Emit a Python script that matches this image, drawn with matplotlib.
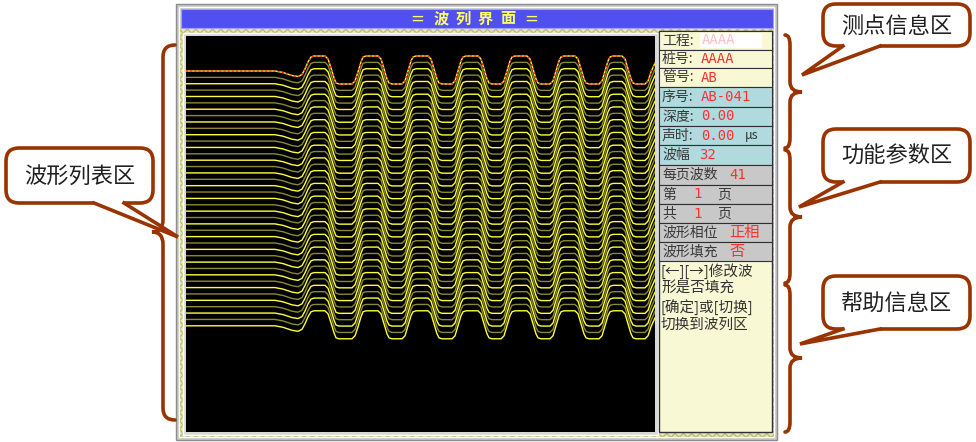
import matplotlib.pyplot as plt
from matplotlib.patches import Rectangle, FancyBboxPatch, Polygon, PathPatch
from matplotlib.path import Path

plt.rcParams['font.family'] = ['Noto Sans CJK SC', 'DejaVu Sans']

# waveform template (sample index, amplitude in px, up = +)
wave_x = [0, 89, 97, 106, 112, 116, 119, 122, 125, 128, 139, 142, 145, 148, 150, 153,
          166, 169, 172, 175, 177, 180, 192, 195, 198, 201, 203, 206, 216, 219, 222, 225,
          227, 230, 242, 245, 248, 251, 253, 256, 266, 269, 272, 275, 277, 280, 292, 295,
          298, 301, 303, 306, 315, 318, 321, 324, 326, 329, 341, 344, 347, 350, 352, 355,
          364, 367, 370, 373, 375, 378, 389, 392, 395, 398, 400, 403, 413, 416, 419, 422,
          424, 427, 436, 439, 442, 445, 447, 450, 459, 462, 465, 469]
wave_y = [0, 0, -1.5, -4.5, -5.5, -3.5, 2, 9, 14, 15, 15, 12, 3, -7, -12, -13,
          -13, -10, -1, 9, 14, 15, 15, 12, 2, -8, -12, -13, -13, -10, 0, 10,
          14, 15, 15, 12, 2, -8, -12, -13, -13, -10, 0, 10, 14, 15, 15, 12,
          2, -8, -12, -13, -13, -10, 0, 10, 14, 15, 15, 12, 2, -8, -12, -13,
          -13, -10, 0, 10, 14, 15, 15, 12, 2, -8, -12, -13, -13, -10, 0, 10,
          14, 15, 15, 12, 2, -8, -12, -13, -13, -10, -1, 8]
n_traces = 41

title_chars = ['═', '波', '列', '界', '面', '═']
labels = ['工程:', '桩号:', '管号:', '序号:', '深度:', '声时:', '波幅',
          '每页波数', '第', '共', '波形相位', '波形填充']
values = ['AAAA', 'AAAA', 'AB', 'AB-041', '0.00', '0.00', '32',
          '41', '1', '1', '正相', '否']
help_lines = ['[←][→]修改波', '形是否填充', '[确定]或[切换]', '切换到波列区']
callouts = ['波形列表区', '测点信息区', '功能参数区', '帮助信息区']

W, H = 976, 442
fig = plt.figure(figsize=(W / 100, H / 100), dpi=100)
bg = fig.add_axes([0, 0, 1, 1])
bg.set_xlim(0, W)
bg.set_ylim(H, 0)
bg.axis('off')


def rect(x0, y0, x1, y1, **kw):
    bg.add_patch(Rectangle((x0, y0), x1 - x0, y1 - y0, **kw))


# window frame
rect(176, 4, 777, 440, facecolor='#c8c8c8', edgecolor='#8c8c8c', lw=1)
rect(179, 7, 774, 437, facecolor='none', edgecolor='white', lw=1)
rect(180, 28, 774, 437, facecolor='#e6e6b4', edgecolor='#bcbc7c', hatch='xxxx', lw=0)
rect(181, 9, 773, 28, facecolor='#5050f0', edgecolor='#a0a0ff', lw=0.8)
for cx, ch in zip([417, 441, 463, 485, 508, 531], title_chars):
    if ch == '═':
        bg.text(cx, 18.5, '=', color='#ffff66', fontsize=12, ha='center', va='center',
                family=['DejaVu Sans'])
    else:
        bg.text(cx, 18.5, ch, color='#ffff66', fontsize=11, fontweight='bold',
                ha='center', va='center')
rect(183, 33, 658, 435, facecolor='#d8d8d8', edgecolor='white', lw=1)

# waveform area
ax = fig.add_axes([186 / W, 1 - 432 / H, (655 - 186) / W, (432 - 36) / H])
ax.set_facecolor('black')
ax.set_xlim(0, 469)
ax.set_ylim(396, 0)
ax.set_xticks([])
ax.set_yticks([])
for s in ax.spines.values():
    s.set_visible(False)
for i in range(n_traces - 1, -1, -1):
    base = 35 + i * 6.37
    ys = [base - v for v in wave_y]
    col = '#ffff3c' if i % 2 == 0 else '#8a8a36'
    ax.plot(wave_x, ys, color=col, lw=1.0, zorder=2 + (i % 2 == 0))
    if i == 0:
        ax.plot(wave_x, ys, color='#ff2020', lw=1.0, dashes=(1.5, 1.5), zorder=5)

# right panel
rows = [31, 50, 68, 87, 107, 126, 145, 165, 185, 204, 223, 242, 261]
fills = ['#f8f8d4'] * 3 + ['#b0dade'] * 4 + ['#c8c8c8'] * 5
rect(659, 31, 772, 432, facecolor='#f8f8d4', edgecolor='#303030', lw=1)
fs = 10
for k in range(len(labels)):
    y0, y1 = rows[k], rows[k + 1]
    rect(659, y0, 772, y1, facecolor=fills[k], edgecolor='#303030', lw=0.8)
    yc = (y0 + y1) / 2
    bg.text(662, yc, labels[k], color='#383838', fontsize=fs, va='center')
    if k == 0:
        rect(700, y0 + 2, 762, y1 - 2, facecolor='white', edgecolor='none')
        bg.text(702, yc, values[k], color='#ffb0b8', fontsize=fs, va='center',
                family=['DejaVu Sans Mono'], alpha=0.8)
        continue
    if labels[k] in ('第', '共'):
        vx = 693
        bg.text(717, yc, '页', color='#383838', fontsize=fs, va='center')
    elif len(labels[k]) == 4:
        vx = 729
    elif k == 6:
        vx = 699
    else:
        vx = 701
    if k < 10:
        bg.text(vx, yc, values[k], color='#ff3030', fontsize=fs, va='center',
                family=['DejaVu Sans Mono', 'Noto Sans CJK SC'])
    else:
        bg.text(vx, yc, values[k], color='#ff3030', fontsize=11, va='center')
    if k == 5:
        bg.text(745, yc, 'μs', color='#383838', fontsize=9, va='center')

for j, line in enumerate(help_lines):
    bg.text(661, 271 + j * 18, line, color='#303030', fontsize=10.5, va='center')

# annotations
brown = '#993300'


def brace(x_end, x_mid, x_tip, y0, ym, y1, r=10):
    verts = [(x_end, y0), (x_mid, y0), (x_mid, y0 + r),
             (x_mid, ym - r), (x_mid, ym), (x_tip, ym),
             (x_mid, ym), (x_mid, ym + r),
             (x_mid, y1 - r), (x_mid, y1), (x_end, y1)]
    codes = [Path.MOVETO, Path.CURVE3, Path.CURVE3,
             Path.LINETO, Path.CURVE3, Path.CURVE3,
             Path.CURVE3, Path.CURVE3,
             Path.LINETO, Path.CURVE3, Path.CURVE3]
    bg.add_patch(PathPatch(Path(verts, codes), facecolor='none',
                           edgecolor=brown, lw=2.6, capstyle='round'))


def callout(x0, y0, x1, y1, b1, b2, tip, text):
    bg.add_patch(FancyBboxPatch((x0, y0), x1 - x0, y1 - y0,
                                boxstyle='round,pad=0,rounding_size=13',
                                facecolor='white', edgecolor=brown, lw=2.6, zorder=4))
    bg.add_patch(Polygon([(b1, y1 - 3), (b1, y1), tip, (b2, y1), (b2, y1 - 3)],
                         closed=True, facecolor='white', edgecolor='none', zorder=5))
    bg.plot([b1, tip[0], b2], [y1, tip[1], y1], color=brown, lw=2.6,
            solid_joinstyle='miter', zorder=6)
    bg.text((x0 + x1) / 2, (y0 + y1) / 2 + 1, text, fontsize=16, color='#202020',
            ha='center', va='center', zorder=7)


brace(175, 163, 152, 45, 232, 420, r=12)
brace(785, 790, 802, 35, 92, 148)
brace(785, 790, 802, 150, 217, 283)
brace(785, 790, 802, 285, 358, 432)

callout(6, 148, 153, 203, 94, 124, (178, 237), callouts[0])
callout(823, 4, 970, 46, 843, 880, (802, 75), callouts[1])
callout(823, 129, 970, 182, 843, 880, (799, 207), callouts[2])
callout(823, 276, 970, 329, 843, 880, (800, 344), callouts[3])

fig.savefig('out.png', dpi=100)
